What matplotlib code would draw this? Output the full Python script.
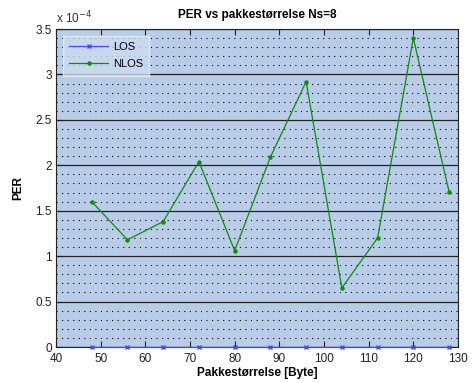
import matplotlib
matplotlib.use("Agg")
import matplotlib.pyplot as plt
from matplotlib.ticker import MultipleLocator, FuncFormatter

# data (PER in units of 1e-4)
packet_size = [48, 56, 64, 72, 80, 88, 96, 104, 112, 120, 128]
per_los = [0, 0, 0, 0, 0, 0, 0, 0, 0, 0, 0]
per_nlos = [1.60, 1.18, 1.38, 2.04, 1.06, 2.09, 2.92, 0.65, 1.20, 3.40, 1.71]

plt.rcParams["font.family"] = ["Liberation Sans", "DejaVu Sans"]
plt.rcParams["font.size"] = 8

fig = plt.figure(figsize=(4.75, 3.83), dpi=100)
ax = fig.add_axes([56 / 475, 1 - 347 / 383, (458 - 56) / 475, (347 - 29) / 383])
ax.set_facecolor("#b9cde9")

ax.plot(packet_size, [v * 1e-4 for v in per_los], color="#4646ff", marker="x",
        markersize=3.5, linewidth=0.9, label="LOS", clip_on=False, zorder=3)
ax.plot(packet_size, [v * 1e-4 for v in per_nlos], color="#108a10", marker="o",
        markersize=2.2, linewidth=0.9, label="NLOS", zorder=3)

ax.set_xlim(40, 130)
ax.set_ylim(0, 3.5e-4)
ax.xaxis.set_major_locator(MultipleLocator(10))
ax.yaxis.set_major_locator(MultipleLocator(0.5e-4))
ax.yaxis.set_minor_locator(MultipleLocator(0.1e-4))
ax.yaxis.set_major_formatter(FuncFormatter(lambda v, p: f"{v * 1e4:g}"))

ax.grid(True, axis="y", which="major", color="#222222", linewidth=0.9, linestyle="-")
ax.grid(True, axis="y", which="minor", color="black", linewidth=0.8, linestyle=(0, (1, 4)))
ax.set_axisbelow(True)

ax.tick_params(axis="both", which="major", direction="in", length=4, width=0.8,
               top=True, right=False, labelsize=8.5, colors="#222222")
ax.tick_params(axis="x", which="major", pad=4)
ax.tick_params(axis="y", which="major", pad=3)
ax.tick_params(axis="y", which="minor", length=0)
for s in ax.spines.values():
    s.set_color("#222222")
    s.set_linewidth(0.8)

ax.set_title("PER vs pakkestørrelse Ns=8", fontsize=8.5, fontweight="bold", pad=8)
ax.set_xlabel("Pakkestørrelse [Byte]", fontsize=8.5, fontweight="bold", labelpad=2)
ax.set_ylabel("PER", fontsize=8.5, fontweight="bold", labelpad=8)

fig.text(56 / 475, 1 - 18 / 383, r"x 10$^{-4}$", fontsize=8.5, color="#333333",
         va="center", ha="left")

leg = ax.legend(loc="upper left", bbox_to_anchor=(0.0, 1.0), fontsize=8,
                frameon=True, fancybox=False, handlelength=3.5, borderpad=0.6,
                labelspacing=0.6, handletextpad=0.4, borderaxespad=0.6)
leg.get_frame().set_facecolor("#cddcf0")
leg.get_frame().set_edgecolor("#e6eef8")
leg.get_frame().set_linewidth(1.0)

fig.savefig("out.png", dpi=100, facecolor="white")
